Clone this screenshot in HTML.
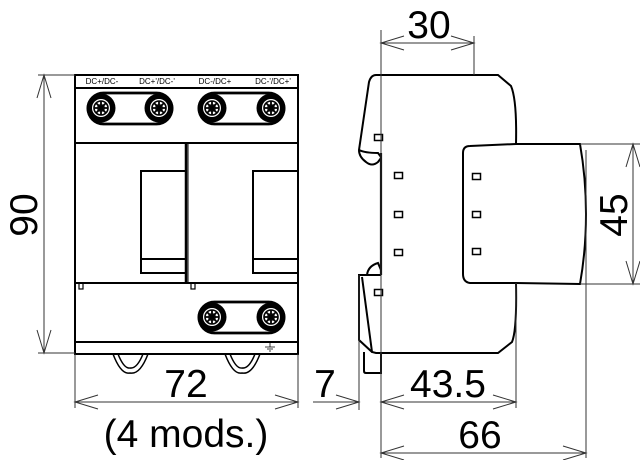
<!DOCTYPE html>
<html><head><meta charset="utf-8"><style>html,body{margin:0;padding:0;background:#fff}svg{display:block}</style></head>
<body>
<svg width="640" height="460" viewBox="0 0 640 460" xmlns="http://www.w3.org/2000/svg" font-family="Liberation Sans, DejaVu Sans, sans-serif">
<defs>
<g id="screw">
<circle r="14.5" fill="#000"/>
<circle r="9" fill="#fff"/>
<circle r="7" fill="none" stroke="#000" stroke-width="1.6"/>
<path d="M-7 0H7M0 -7V7M-5 -5L5 5M-5 5L5 -5" stroke="#000" stroke-width="1.8"/>
<rect x="-3" y="-3" width="6" height="6" fill="none" stroke="#000" stroke-width="1.2"/>
</g>
</defs>
<!-- FRONT VIEW -->
<g fill="none" stroke="#000" stroke-width="2">
<rect x="75" y="75" width="223" height="279"/>
<line x1="75" y1="88" x2="298" y2="88"/>
<line x1="75" y1="143" x2="298" y2="143"/>
<line x1="75" y1="283" x2="298" y2="283"/>
<line x1="75" y1="342" x2="298" y2="342"/>
<line x1="186" y1="143" x2="186" y2="283" stroke-width="2.5"/>
<line x1="188" y1="143" x2="188" y2="283" stroke-width="1"/>
<path d="M186 171H141V273H186M141 259H186"/>
<path d="M298 171H253V273H298M253 259H298"/>
<rect x="79" y="283" width="4" height="6" stroke-width="1.2"/>
<rect x="191" y="283" width="4" height="6" stroke-width="1.2"/>
<rect x="88" y="93" width="84" height="31" rx="15.5" stroke-width="2.8"/>
<rect x="199" y="93" width="85" height="31" rx="15.5" stroke-width="2.8"/>
<rect x="199" y="302" width="85" height="31" rx="15.5" stroke-width="2.8"/>
<path d="M113 354Q121 375 130 373Q140 375 148 354" stroke-width="1.5"/>
<path d="M118 354Q124 369 130 368Q137 369 143 354" stroke-width="1.5"/>
<path d="M225 354Q233 375 242 373Q252 375 260 354" stroke-width="1.5"/>
<path d="M230 354Q236 369 242 368Q249 369 255 354" stroke-width="1.5"/>
<path d="M270 343V347M265 347H275M267 349H273M269 351H271" stroke-width="0.8"/>
</g>
<use href="#screw" x="101" y="108"/><use href="#screw" x="159" y="108"/>
<use href="#screw" x="212" y="108"/><use href="#screw" x="271" y="108"/>
<use href="#screw" x="212" y="317"/><use href="#screw" x="271" y="317"/>
<g font-size="8" text-anchor="middle">
<text x="102" y="84">DC+/DC-</text><text x="157" y="84">DC+'/DC-'</text>
<text x="215" y="84">DC-/DC+</text><text x="273" y="84">DC-'/DC+'</text>
</g>
<!-- SIDE VIEW -->
<g fill="none" stroke="#000" stroke-width="2">
<path d="M381 158L378 162Q372 167 366 162Q359 157 359 150L369 82Q371 75 376 75H498L511 86Q517 100 516 144"/>
<path d="M359 150Q365 153 378 153L381 157"/>
<line x1="381" y1="153" x2="381" y2="275" stroke-width="2.2"/>
<path d="M516 283Q517 330 512 342L498 353H376L372 352L362 277"/>
<path d="M381 275H359V340L372 352"/>
<path d="M367 275Q368 266 378 263L381 270"/>
<path d="M364 352V371Q364 373 366 373H381V352"/>
<path d="M516 144L470 146Q463 146 463 153V274Q463 282 470 283L516 283L580 284Q586 250 586 214Q586 178 580 144L516 144"/>
</g>
<g fill="none" stroke="#000" stroke-width="1.5">
<rect x="374.5" y="134.5" width="8" height="6"/><rect x="374.5" y="289.5" width="8" height="6"/>
<rect x="394.5" y="172.5" width="8" height="6"/><rect x="394.5" y="211.5" width="8" height="6"/><rect x="394.5" y="249.5" width="8" height="6"/>
<rect x="472.5" y="173.5" width="8" height="6"/><rect x="472.5" y="211.5" width="8" height="6"/><rect x="472.5" y="248.5" width="8" height="6"/>
</g>
<!-- DIMENSIONS -->
<g fill="none" stroke="#333" stroke-width="1">
<line x1="38" y1="75" x2="75" y2="75"/><line x1="38" y1="353" x2="75" y2="353"/>
<line x1="44" y1="75" x2="44" y2="353"/>
<path d="M37 98L44 75L51 98M37 330L44 353L51 330"/>
<line x1="75" y1="354" x2="75" y2="408"/><line x1="298" y1="354" x2="298" y2="408"/>
<line x1="75" y1="402" x2="298" y2="402"/>
<path d="M98 395L75 402L98 409M275 395L298 402L275 409"/>
<line x1="313" y1="402" x2="359" y2="402"/>
<path d="M336 395L359 402L336 409"/>
<line x1="359" y1="275" x2="359" y2="410"/>
<line x1="381" y1="30" x2="381" y2="458"/>
<line x1="474" y1="36" x2="474" y2="75"/>
<line x1="381" y1="43" x2="474" y2="43"/>
<path d="M404 36L381 43L404 50M451 36L474 43L451 50"/>
<line x1="381" y1="402" x2="516" y2="402"/>
<path d="M404 395L381 402L404 409M493 395L516 402L493 409"/>
<line x1="516" y1="283" x2="516" y2="408"/>
<line x1="586" y1="150" x2="586" y2="458"/>
<line x1="381" y1="453" x2="586" y2="453"/>
<path d="M404 446L381 453L404 460M563 446L586 453L563 460"/>
<line x1="580" y1="144" x2="640" y2="144"/><line x1="580" y1="284" x2="640" y2="284"/>
<line x1="633" y1="144" x2="633" y2="284"/>
<path d="M626 167L633 144L640 167M626 261L633 284L640 261"/>
</g>
<g font-size="39" fill="#000" text-anchor="middle">
<text x="0" y="0" transform="translate(37,215) rotate(-90)">90</text>
<text x="186" y="397">72</text>
<text x="186" y="447">(4 mods.)</text>
<text x="325" y="397">7</text>
<text x="448" y="397">43.5</text>
<text x="429" y="38">30</text>
<text x="480" y="448">66</text>
<text x="0" y="0" transform="translate(627,215) rotate(-90)">45</text>
</g>
</svg>
</body></html>
